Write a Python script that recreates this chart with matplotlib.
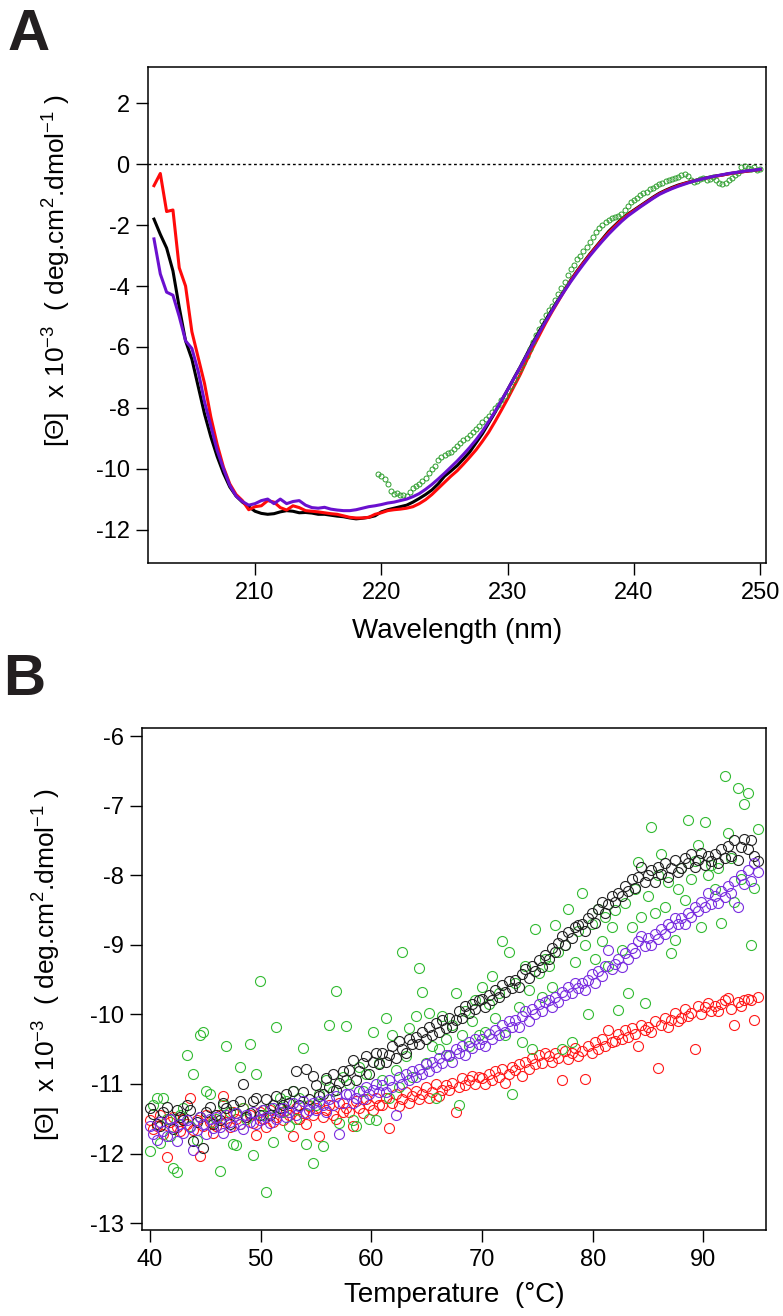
import numpy as np
import matplotlib
matplotlib.use('Agg')
import matplotlib.pyplot as plt

plt.rcParams['font.family'] = ['Liberation Sans', 'DejaVu Sans']
plt.rcParams['mathtext.default'] = 'regular'
plt.rcParams['axes.unicode_minus'] = False

# ---------------- panel A : CD spectra ----------------
wavelength = np.arange(202.0, 250.01, 0.5)

cd_black = [
    -1.8, -2.3, -2.75, -3.5, -4.7, -5.8, -6.4, -7.3, -8.2, -8.95,
    -9.6, -10.15, -10.6, -10.9, -11.1, -11.25, -11.4, -11.47, -11.5, -11.48,
    -11.42, -11.38, -11.4, -11.45, -11.44, -11.46, -11.5, -11.5, -11.53, -11.56,
    -11.58, -11.62, -11.65, -11.63, -11.6, -11.55, -11.42, -11.35, -11.3, -11.25,
    -11.2, -11.1, -10.98, -10.85, -10.7, -10.5, -10.25, -10.08, -9.9, -9.68,
    -9.45, -9.15, -8.85, -8.5, -8.15, -7.78, -7.4, -7.02, -6.65, -6.25,
    -5.85, -5.48, -5.12, -4.78, -4.45, -4.12, -3.8, -3.5, -3.22, -2.95,
    -2.7, -2.45, -2.2, -2.0, -1.8, -1.64, -1.5, -1.36, -1.22, -1.08,
    -0.95, -0.85, -0.76, -0.68, -0.62, -0.56, -0.51, -0.46, -0.42, -0.38,
    -0.35, -0.31, -0.28, -0.25, -0.22, -0.2, -0.17]

cd_red = [
    -0.7, -0.3, -1.55, -1.5, -3.4, -4.0, -5.5, -6.35, -7.2, -8.3,
    -9.2, -9.95, -10.5, -10.85, -11.05, -11.35, -11.25, -11.22, -11.05, -11.1,
    -11.28, -11.36, -11.22, -11.28, -11.38, -11.4, -11.42, -11.45, -11.48, -11.5,
    -11.55, -11.6, -11.62, -11.62, -11.6, -11.5, -11.45, -11.38, -11.35, -11.33,
    -11.3, -11.25, -11.15, -11.02, -10.85, -10.65, -10.45, -10.25, -10.07, -9.85,
    -9.62, -9.38, -9.1, -8.8, -8.45, -8.08, -7.7, -7.3, -6.9, -6.45,
    -6.02, -5.62, -5.22, -4.85, -4.5, -4.15, -3.82, -3.52, -3.24, -2.97,
    -2.72, -2.48, -2.24, -2.03, -1.83, -1.66, -1.52, -1.38, -1.24, -1.1,
    -0.97, -0.87, -0.78, -0.7, -0.63, -0.57, -0.52, -0.47, -0.43, -0.39,
    -0.35, -0.31, -0.28, -0.25, -0.22, -0.19, -0.17]

cd_purple = [
    -2.45, -3.6, -4.2, -4.3, -5.0, -5.8, -6.05, -6.8, -7.8, -8.6,
    -9.4, -10.0, -10.55, -10.9, -11.08, -11.2, -11.15, -11.05, -11.0, -11.15,
    -11.0, -11.15, -11.08, -11.05, -11.2, -11.28, -11.3, -11.27, -11.33, -11.36,
    -11.38, -11.38, -11.35, -11.3, -11.25, -11.22, -11.18, -11.13, -11.1, -11.05,
    -11.0, -10.92, -10.82, -10.68, -10.52, -10.34, -10.15, -9.95, -9.75, -9.53,
    -9.3, -9.05, -8.77, -8.45, -8.12, -7.76, -7.4, -7.03, -6.66, -6.28,
    -5.9, -5.53, -5.17, -4.82, -4.48, -4.16, -3.85, -3.56, -3.28, -3.01,
    -2.76, -2.52, -2.29, -2.08, -1.88, -1.7, -1.55, -1.4, -1.26, -1.12,
    -0.99, -0.89, -0.8, -0.72, -0.65, -0.58, -0.52, -0.47, -0.42, -0.38,
    -0.34, -0.3, -0.27, -0.24, -0.21, -0.19, -0.16]

green_wavelength = np.arange(219.75, 250.01, 0.25)
cd_green = [
    -10.18, -10.25, -10.33, -10.5, -10.75, -10.82, -10.8, -10.85, -10.87, -10.9,
    -10.78, -10.62, -10.58, -10.5, -10.4, -10.3, -10.15, -10.02, -9.9, -9.72,
    -9.62, -9.56, -9.5, -9.45, -9.35, -9.25, -9.15, -9.05, -8.98, -8.88,
    -8.8, -8.7, -8.6, -8.48, -8.38, -8.28, -8.15, -8.02, -7.9, -7.75,
    -7.6, -7.45, -7.28, -7.1, -6.92, -6.72, -6.52, -6.3, -6.08, -5.85,
    -5.62, -5.4, -5.15, -4.95, -4.8, -4.65, -4.45, -4.25, -4.05, -3.85,
    -3.65, -3.45, -3.3, -3.12, -3.0, -2.85, -2.7, -2.55, -2.38, -2.22,
    -2.1, -2.0, -1.9, -1.82, -1.75, -1.72, -1.7, -1.62, -1.5, -1.38,
    -1.25, -1.18, -1.1, -1.02, -0.95, -0.9, -0.82, -0.78, -0.72, -0.65,
    -0.6, -0.55, -0.52, -0.48, -0.45, -0.4, -0.35, -0.32, -0.38, -0.5,
    -0.58, -0.55, -0.48, -0.45, -0.5, -0.48, -0.42, -0.5, -0.6, -0.66,
    -0.6, -0.52, -0.45, -0.35, -0.28, -0.1, -0.05, -0.12, -0.15, -0.1,
    -0.2, -0.15]

# ---------------- panel B : thermal melt ----------------
temperature = np.round(np.arange(40.0, 94.95, 0.3), 1)

melt_black = [
    -11.35, -11.43, -11.57, -11.6, -11.4, -11.33, -11.5, -11.65, -11.37, -11.47,
    -11.52, -11.3, -11.38, -11.82, -11.55, -11.48, -11.92, -11.4, -11.33, -11.58,
    -11.45, -11.52, -11.28, -11.35, -11.58, -11.3, -11.42, -11.25, -11.0, -11.48,
    -11.42, -11.25, -11.2, -11.45, -11.38, -11.22, -11.45, -11.3, -11.18, -11.35,
    -11.3, -11.15, -11.28, -11.1, -10.82, -11.3, -11.12, -10.78, -11.22, -10.88,
    -11.02, -11.18, -11.15, -10.92, -11.05, -10.85, -11.08, -10.98, -10.82, -10.95,
    -10.8, -10.66, -10.95, -10.82, -10.7, -10.6, -10.85, -10.68, -10.55, -10.72,
    -10.55, -10.68, -10.58, -10.45, -10.62, -10.38, -10.5, -10.55, -10.35, -10.42,
    -10.32, -10.42, -10.25, -10.35, -10.18, -10.3, -10.12, -10.25, -10.08, -10.2,
    -10.05, -10.18, -10.08, -9.95, -10.05, -9.88, -9.98, -9.85, -9.92, -9.8,
    -9.78, -9.9, -9.72, -9.8, -9.65, -9.75, -9.58, -9.68, -9.52, -9.62,
    -9.5, -9.6, -9.42, -9.35, -9.48, -9.3, -9.38, -9.22, -9.32, -9.15,
    -9.2, -9.05, -9.1, -8.98, -8.88, -9.0, -8.82, -8.9, -8.75, -8.72,
    -8.7, -8.8, -8.62, -8.55, -8.68, -8.48, -8.38, -8.55, -8.42, -8.3,
    -8.38, -8.25, -8.3, -8.15, -8.22, -8.05, -8.18, -8.02, -7.88, -8.1,
    -8.0, -7.92, -8.1, -7.88, -7.98, -7.82, -8.02, -7.9, -7.78, -7.95,
    -7.9, -7.75, -7.82, -7.7, -7.88, -7.78, -7.68, -7.85, -7.72, -7.8,
    -7.7, -7.82, -7.62, -7.75, -7.58, -7.72, -7.5, -7.78, -7.6, -7.48,
    -7.62, -7.5, -7.72, -7.8]

melt_red = [
    -11.52, -11.65, -11.6, -11.45, -11.72, -12.05, -11.55, -11.48, -11.62, -11.68,
    -11.5, -11.58, -11.2, -11.66, -11.52, -12.03, -11.6, -11.45, -11.55, -11.7,
    -11.6, -11.45, -11.18, -11.55, -11.62, -11.4, -11.5, -11.58, -11.35, -11.48,
    -11.45, -11.56, -11.73, -11.4, -11.5, -11.62, -11.38, -11.55, -11.48, -11.4,
    -11.52, -11.38, -11.45, -11.75, -11.35, -11.5, -11.42, -11.58, -11.32, -11.45,
    -11.35, -11.75, -11.48, -11.38, -11.3, -11.45, -11.5, -11.28, -11.4, -11.35,
    -11.4, -11.6, -11.25, -11.35, -11.42, -11.22, -11.3, -11.38, -11.2, -11.3,
    -11.3, -11.2, -11.64, -11.28, -11.15, -11.32, -11.22, -11.12, -11.28, -11.18,
    -11.1, -11.22, -11.15, -11.05, -11.2, -11.12, -11.0, -11.18, -11.08, -11.02,
    -11.08, -10.98, -11.4, -11.05, -10.92, -11.02, -10.95, -10.88, -11.0, -10.9,
    -10.92, -11.0, -10.85, -10.95, -10.82, -10.9, -10.78, -10.98, -10.85, -10.75,
    -10.8, -10.72, -10.88, -10.68, -10.78, -10.62, -10.72, -10.58, -10.7, -10.55,
    -10.6, -10.68, -10.55, -10.62, -10.94, -10.52, -10.64, -10.55, -10.48, -10.6,
    -10.52, -10.93, -10.45, -10.55, -10.4, -10.5, -10.36, -10.45, -10.22, -10.4,
    -10.38, -10.28, -10.35, -10.22, -10.32, -10.2, -10.28, -10.46, -10.15, -10.22,
    -10.18, -10.25, -10.1, -10.77, -10.15, -10.05, -10.18, -10.08, -9.98, -10.1,
    -10.05, -9.92, -10.02, -9.98, -10.5, -9.88, -10.0, -9.9, -9.84, -9.95,
    -9.88, -9.95, -9.85, -9.8, -9.77, -9.92, -10.15, -9.82, -9.88, -9.8,
    -9.78, -9.8, -10.08, -9.75]

melt_purple = [
    -11.6, -11.72, -11.8, -11.55, -11.68, -11.75, -11.5, -11.62, -11.82, -11.58,
    -11.7, -11.52, -11.62, -11.95, -11.66, -11.48, -11.58, -11.72, -11.5, -11.64,
    -11.48, -11.62, -11.7, -11.45, -11.55, -11.6, -11.42, -11.58, -11.65, -11.45,
    -11.55, -11.4, -11.58, -11.52, -11.38, -11.48, -11.56, -11.35, -11.5, -11.4,
    -11.35, -11.48, -11.4, -11.28, -11.45, -11.32, -11.25, -11.42, -11.38, -11.28,
    -11.38, -11.25, -11.3, -11.4, -11.22, -11.3, -11.18, -11.72, -11.28, -11.15,
    -11.15, -11.28, -11.2, -11.1, -11.22, -11.05, -11.15, -11.08, -11.0, -11.12,
    -11.02, -11.12, -10.95, -11.05, -11.45, -10.9, -11.0, -10.85, -10.95, -10.82,
    -10.9, -10.78, -10.85, -10.72, -10.82, -10.68, -10.75, -10.62, -10.7, -10.58,
    -10.58, -10.68, -10.5, -10.55, -10.45, -10.58, -10.4, -10.48, -10.35, -10.42,
    -10.35, -10.45, -10.28, -10.35, -10.22, -10.3, -10.15, -10.25, -10.1, -10.18,
    -10.08, -10.18, -10.02, -9.95, -10.1, -9.92, -10.0, -9.85, -9.95, -9.82,
    -9.8, -9.9, -9.75, -9.82, -9.68, -9.72, -9.6, -9.7, -9.55, -9.62,
    -9.55, -9.65, -9.5, -9.42, -9.55, -9.38, -9.45, -9.3, -9.08, -9.35,
    -9.28, -9.2, -9.32, -9.12, -9.2, -9.05, -9.12, -8.95, -8.88, -9.02,
    -8.9, -9.0, -8.85, -8.92, -8.78, -8.85, -8.7, -8.75, -8.62, -8.7,
    -8.62, -8.7, -8.55, -8.6, -8.45, -8.52, -8.38, -8.45, -8.26, -8.42,
    -8.3, -8.4, -8.22, -8.32, -8.15, -8.25, -8.08, -8.45, -8.0, -8.12,
    -7.92, -8.08, -7.82, -7.95]

melt_green = [
    -11.97, -11.3, -11.2, -11.85, -11.2, -11.5, -11.75, -12.21, -12.27, -11.45,
    -11.35, -10.58, -11.6, -10.85, -11.8, -10.3, -10.25, -11.1, -11.15, -11.55,
    -11.5, -12.25, -11.3, -10.45, -11.4, -11.86, -11.88, -10.75, -11.35, -11.5,
    -10.43, -12.02, -10.85, -9.52, -11.45, -12.55, -11.35, -11.84, -10.18, -11.2,
    -11.4, -11.25, -11.6, -11.1, -11.5, -11.2, -10.49, -11.86, -11.3, -12.14,
    -11.3, -11.15, -11.89, -10.95, -10.15, -11.1, -9.66, -11.56, -10.9, -10.16,
    -11.0, -11.52, -11.6, -10.75, -11.1, -10.85, -11.5, -10.25, -11.52, -10.7,
    -10.95, -10.05, -11.2, -10.3, -10.8, -11.05, -9.11, -10.6, -10.2, -10.9,
    -10.02, -9.33, -9.68, -10.7, -9.98, -10.45, -11.2, -10.5, -10.02, -10.35,
    -10.6, -10.15, -9.7, -11.3, -10.3, -9.95, -10.45, -10.1, -9.8, -10.3,
    -9.6, -10.25, -9.85, -9.45, -10.05, -9.7, -8.95, -10.3, -9.11, -11.15,
    -9.55, -9.9, -10.4, -9.3, -9.65, -10.5, -8.78, -9.4, -9.75, -9.2,
    -9.3, -9.6, -8.72, -9.1, -10.5, -9.0, -8.49, -10.4, -9.25, -8.8,
    -8.26, -9.0, -10.0, -8.7, -9.2, -8.49, -8.95, -8.6, -9.3, -8.75,
    -8.5, -9.94, -9.07, -8.4, -9.7, -8.75, -8.2, -7.81, -8.6, -9.84,
    -8.3, -7.3, -8.55, -8.0, -7.69, -8.45, -8.1, -9.12, -8.93, -8.2,
    -7.9, -8.35, -7.2, -8.05, -7.8, -7.57, -8.74, -7.23, -8.0, -7.85,
    -8.2, -7.9, -8.68, -6.58, -7.4, -7.75, -8.38, -6.75, -8.05, -6.98,
    -6.82, -9.01, -8.19, -7.33]

ylabel_text = r'[$\Theta$]  x 10$^{-3}$  ( deg.cm$^{2}$.dmol$^{-1}$ )'

fig = plt.figure(figsize=(7.83, 13.16), dpi=100)
ax1 = fig.add_axes([0.1894, 0.5722, 0.7889, 0.3769])
ax2 = fig.add_axes([0.1817, 0.0653, 0.7966, 0.3812])

for ax in (ax1, ax2):
    for sp in ax.spines.values():
        sp.set_linewidth(1.1)
    ax.tick_params(direction='out', length=8.5, width=1, labelsize=17, pad=5)

# panel A
ax1.axhline(0, color='black', lw=1, ls=(0, (2, 2)))
ax1.plot(wavelength, cd_black, color='black', lw=2.2)
ax1.plot(wavelength, cd_red, color='#ff0a0a', lw=2.2)
ax1.plot(green_wavelength, cd_green, 'o', ms=3.6, mfc='none', mec='#2e9e2e', mew=0.7)
ax1.plot(wavelength, cd_purple, color='#6a10cf', lw=2.2)
ax1.set_xlim(201.55, 250.45)
ax1.set_ylim(-13.1, 3.2)
ax1.set_xticks([210, 220, 230, 240, 250])
ax1.set_yticks([-12, -10, -8, -6, -4, -2, 0, 2])
ax1.set_xlabel('Wavelength (nm)', fontsize=20, labelpad=10)
ax1.set_ylabel(ylabel_text, fontsize=19)
ax1.yaxis.set_label_coords(-0.122, 0.59)

# panel B
ax2.plot(temperature, melt_red, 'o', ms=7.2, mfc='none', mec='#ff1a1a', mew=0.8)
ax2.plot(temperature, melt_green, 'o', ms=7.2, mfc='none', mec='#33bb33', mew=0.8)
ax2.plot(temperature, melt_black, 'o', ms=7.2, mfc='none', mec='#222222', mew=0.8)
ax2.plot(temperature, melt_purple, 'o', ms=7.2, mfc='none', mec='#7a2ee0', mew=0.8)
ax2.set_xlim(39.3, 95.65)
ax2.set_ylim(-13.1, -5.89)
ax2.set_xticks([40, 50, 60, 70, 80, 90])
ax2.set_yticks([-13, -12, -11, -10, -9, -8, -7, -6])
ax2.set_xlabel('Temperature  (°C)', fontsize=20, labelpad=8)
ax2.set_ylabel(ylabel_text, fontsize=19)
ax2.yaxis.set_label_coords(-0.127, 0.53)

fig.text(0.0102, 0.962, 'A', fontsize=42, fontweight='bold', color='#231f20')
fig.text(0.004, 0.472, 'B', fontsize=42, fontweight='bold', color='#231f20')

fig.savefig('out.png', dpi=100)
